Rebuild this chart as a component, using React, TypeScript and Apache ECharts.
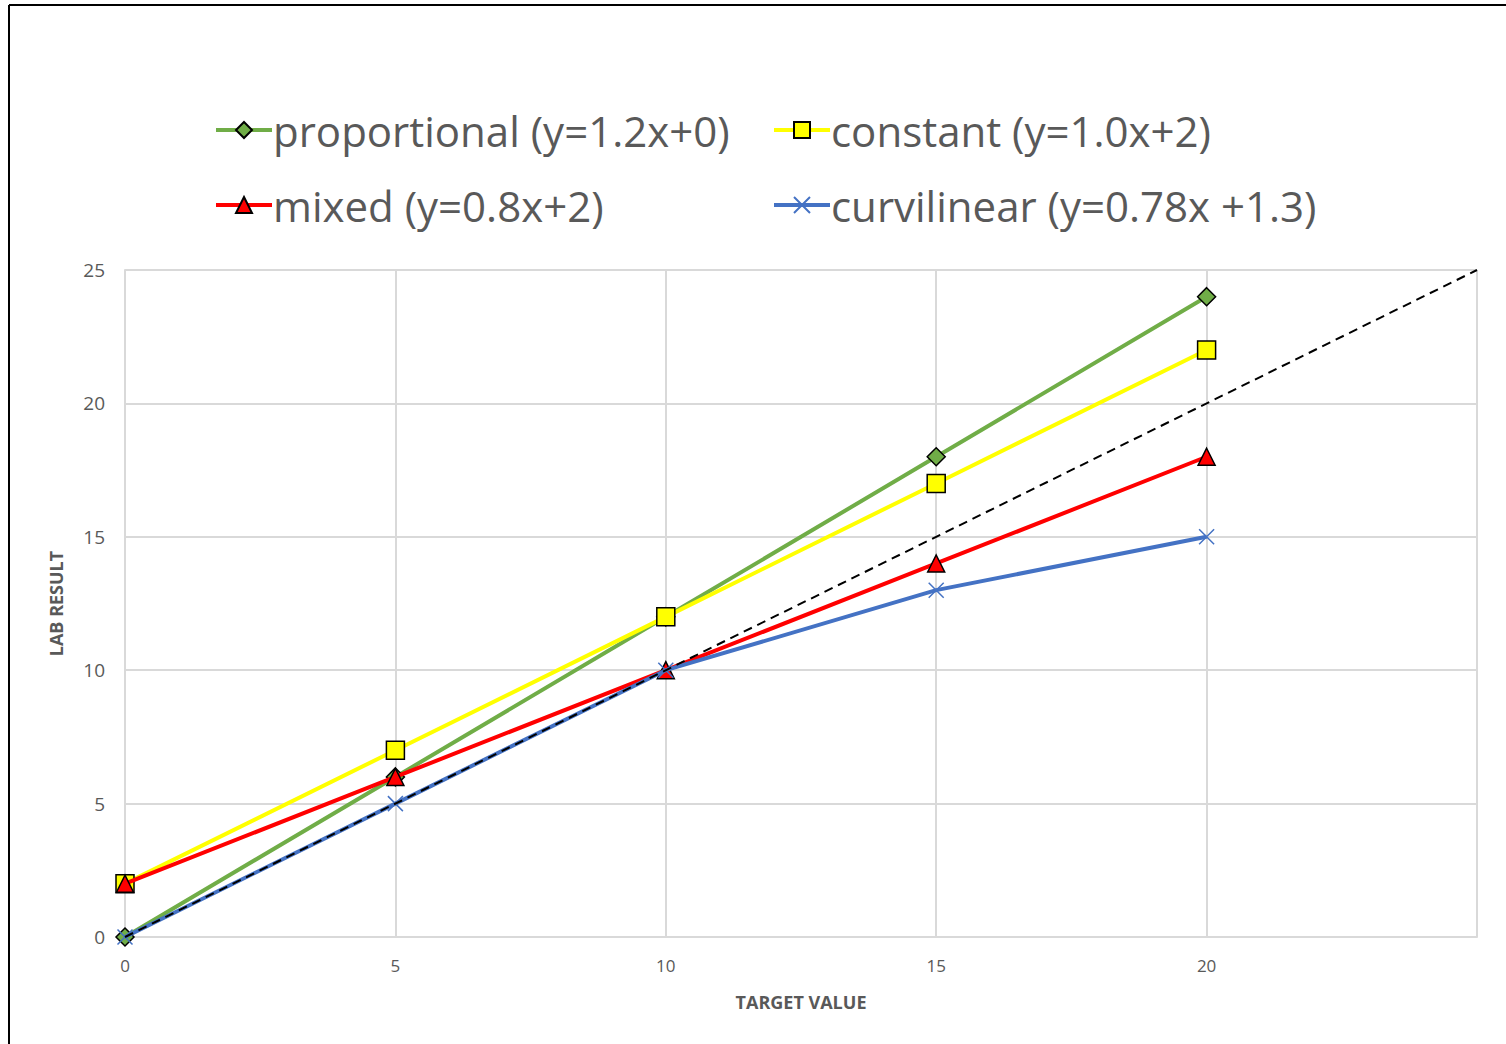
import React, { useEffect, useRef } from "react";
import * as echarts from "echarts";

// Target values on the x axis
const targets = [0, 5, 10, 15, 20];

// Lab results per error model
const proportional = [0, 6, 12, 18, 24];
const constant = [2, 7, 12, 17, 22];
const mixed = [2, 6, 10, 14, 18];
const curvilinear = [0, 5, 10, 13, 15];

// Line of identity (y = x)
const identityX = [0, 25];
const identityY = [0, 25];

const names = {
  proportional: "proportional (y=1.2x+0)",
  constant: "constant (y=1.0x+2)",
  mixed: "mixed (y=0.8x+2)",
  curvilinear: "curvilinear (y=0.78x +1.3)",
};

const FONT = "'Open Sans', 'Noto Sans', sans-serif";
const TEXT_COLOR = "#595959";
const GRID_COLOR = "#d9d9d9";

const pairs = (xs: number[], ys: number[]) => xs.map((x, i) => [x, ys[i]]);

export default function App() {
  const ref = useRef<HTMLDivElement>(null);

  useEffect(() => {
    if (!ref.current) return;
    const chart = echarts.init(ref.current, undefined, { renderer: "svg" });

    const markerBorder = { borderColor: "#000", borderWidth: 1.5 };

    const legendBase = {
      orient: "vertical",
      top: 102,
      padding: 0,
      itemWidth: 56,
      itemHeight: 20,
      itemGap: 19,
      lineStyle: { width: 4 },
      textStyle: {
        fontFamily: FONT,
        fontSize: 42,
        lineHeight: 56,
        color: TEXT_COLOR,
        padding: [0, 0, 0, -4],
      },
    };

    chart.setOption({
      animation: false,
      backgroundColor: "#fff",
      textStyle: { fontFamily: FONT },
      graphic: [
        {
          type: "line",
          shape: { x1: 9, y1: 5, x2: 1506, y2: 5 },
          style: { stroke: "#000", lineWidth: 2 },
        },
        {
          type: "line",
          shape: { x1: 9, y1: 5, x2: 9, y2: 1044 },
          style: { stroke: "#000", lineWidth: 2 },
        },
      ],
      legend: [
        { ...legendBase, left: 214, data: [names.proportional, names.mixed] },
        { ...legendBase, left: 772, data: [names.constant, names.curvilinear] },
      ],
      grid: { left: 125, right: 29, top: 270, bottom: 107, containLabel: false },
      xAxis: {
        type: "value",
        min: 0,
        max: 25,
        interval: 5,
        name: "TARGET VALUE",
        nameLocation: "middle",
        nameGap: 56,
        nameTextStyle: { fontFamily: FONT, fontSize: 18, fontWeight: "bold", color: TEXT_COLOR },
        axisLine: { show: true, lineStyle: { color: GRID_COLOR, width: 2 } },
        axisTick: { show: false },
        axisLabel: {
          margin: 20,
          fontSize: 17,
          color: TEXT_COLOR,
          formatter: (v: number) => (v === 25 ? "" : String(v)),
        },
        splitLine: { show: true, lineStyle: { color: GRID_COLOR, width: 2 } },
      },
      yAxis: {
        type: "value",
        min: 0,
        max: 25,
        interval: 5,
        name: "LAB RESULT",
        nameLocation: "middle",
        nameRotate: 90,
        nameGap: 60,
        nameTextStyle: { fontFamily: FONT, fontSize: 18, fontWeight: "bold", color: TEXT_COLOR },
        axisLine: { show: true, lineStyle: { color: GRID_COLOR, width: 2 } },
        axisTick: { show: false },
        axisLabel: { margin: 20, fontSize: 19, color: TEXT_COLOR },
        splitLine: { show: true, lineStyle: { color: GRID_COLOR, width: 2 } },
      },
      series: [
        {
          name: names.proportional,
          type: "line",
          data: pairs(targets, proportional),
          symbol: "diamond",
          symbolSize: 18,
          lineStyle: { color: "#70AD47", width: 4 },
          itemStyle: { color: "#70AD47", ...markerBorder },
          z: 2,
        },
        {
          name: names.constant,
          type: "line",
          data: pairs(targets, constant),
          symbol: "rect",
          symbolSize: 18,
          lineStyle: { color: "#FFFF00", width: 4 },
          itemStyle: { color: "#FFFF00", ...markerBorder },
          z: 3,
        },
        {
          name: names.mixed,
          type: "line",
          data: pairs(targets, mixed),
          symbol: "triangle",
          symbolSize: 17,
          lineStyle: { color: "#FF0000", width: 4 },
          itemStyle: { color: "#FF0000", ...markerBorder },
          z: 4,
        },
        {
          name: names.curvilinear,
          type: "line",
          data: pairs(targets, curvilinear),
          symbol: "path://M0,0L10,10M10,0L0,10",
          symbolSize: 15,
          lineStyle: { color: "#4472C4", width: 4 },
          itemStyle: { color: "#4472C4", borderColor: "#4472C4", borderWidth: 1.5 },
          z: 5,
        },
        {
          name: "identity",
          type: "line",
          data: pairs(identityX, identityY),
          symbol: "none",
          lineStyle: { color: "#000", width: 2, type: [9, 6] },
          z: 6,
        },
      ],
    });

    return () => chart.dispose();
  }, []);

  return (
    <div
      ref={ref}
      style={{ position: "fixed", left: 0, top: 0, width: 1506, height: 1044 }}
    />
  );
}
